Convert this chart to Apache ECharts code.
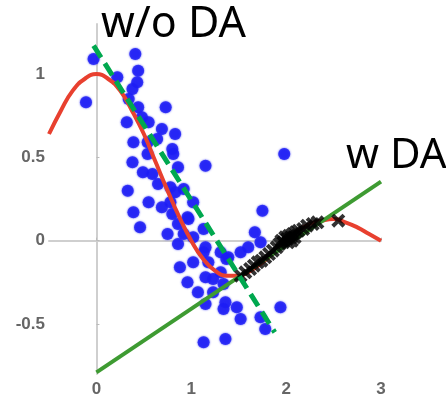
<!DOCTYPE html>
<html>
<head>
<meta charset="utf-8">
<script src="https://cdn.jsdelivr.net/npm/echarts@6/dist/echarts.min.js"></script>
<style>
  html, body { margin: 0; padding: 0; background: #fff; }
  #main { width: 446px; height: 398px; }
</style>
</head>
<body>
<div id="main"></div>
<script>
// source samples (blue dots)
var sourcePoints = [
  [-0.03, 1.09], [0.41, 1.12], [0.44, 1.02], [0.22, 0.98], [0.43, 0.95],
  [0.38, 0.91], [-0.11, 0.83], [0.34, 0.85], [0.44, 0.80], [0.73, 0.80],
  [0.32, 0.71], [0.48, 0.74], [0.55, 0.71], [0.69, 0.67], [0.83, 0.64],
  [0.39, 0.59], [0.64, 0.61], [0.80, 0.55], [0.81, 0.52], [0.54, 0.52],
  [0.38, 0.47], [0.86, 0.44], [1.15, 0.45], [0.49, 0.41], [0.59, 0.40],
  [0.65, 0.34], [0.33, 0.30], [0.78, 0.32], [0.92, 0.31], [0.83, 0.29],
  [0.55, 0.23], [0.78, 0.23], [0.69, 0.20], [1.02, 0.23], [0.80, 0.16],
  [0.39, 0.17], [0.46, 0.08], [0.97, 0.13], [0.86, 0.10], [0.75, 0.04],
  [0.92, 0.04], [1.13, 0.07], [1.02, 0.02], [0.86, -0.02], [1.13, -0.07],
  [1.02, -0.13], [0.88, -0.16], [1.18, -0.13], [1.39, -0.10], [1.52, -0.07],
  [1.60, -0.04], [1.67, 0.05], [1.73, -0.01], [0.96, -0.25], [1.15, -0.22],
  [1.23, -0.23], [1.31, -0.19], [1.07, -0.31], [1.23, -0.31], [1.36, -0.37],
  [1.48, -0.40], [1.34, -0.41], [1.15, -0.38], [1.52, -0.47], [1.94, -0.40],
  [1.73, -0.46], [1.78, -0.53], [1.13, -0.61], [1.36, -0.59], [1.75, 0.18],
  [1.37, -0.11], [1.98, 0.52], [0.54, 0.59], [0.96, 0.14], [1.15, -0.04],
  [1.31, -0.07], [1.34, -0.26]
];

// target samples (black crosses)
var targetPoints = [
  [1.52, -0.21], [1.57, -0.19], [1.62, -0.17], [1.66, -0.15], [1.70, -0.13],
  [1.74, -0.12], [1.78, -0.10], [1.82, -0.08], [1.86, -0.06], [1.90, -0.04],
  [1.93, -0.02], [1.95, 0.00], [1.97, -0.01], [1.99, 0.02], [2.01, 0.01],
  [2.02, -0.01], [2.03, 0.03], [2.05, 0.02], [2.06, 0.00], [2.07, 0.04],
  [2.09, 0.02], [2.10, 0.05], [2.13, 0.06], [2.18, 0.07], [2.22, 0.09],
  [2.28, 0.10], [2.33, 0.11], [2.55, 0.12]
];

// true function (red curve)
var curveX = [-0.5, -0.375, -0.25, -0.125, 0, 0.125, 0.25, 0.375, 0.5, 0.625, 0.75, 0.875,
  1, 1.125, 1.25, 1.375, 1.5, 1.625, 1.75, 1.875, 2, 2.125, 2.25, 2.375, 2.5, 2.625, 2.75, 2.875, 3];
var curveY = [0.64, 0.78, 0.90, 0.97, 1.0, 0.97, 0.90, 0.78, 0.64, 0.47, 0.30, 0.14,
  0.0, -0.11, -0.18, -0.21, -0.21, -0.18, -0.13, -0.07, 0.0, 0.06, 0.10, 0.12, 0.13, 0.11, 0.08, 0.04, 0.0];

// fitted lines
var fitWithDA = [[0, -0.79], [3, 0.354]];
var fitWithoutDA = [[-0.03, 1.17], [1.88, -0.55]];

var xTicks = [0, 1, 2, 3];
var yTicks = [-0.5, 0, 0.5, 1];

var chart = echarts.init(document.getElementById('main'));

// filled "x" marker
var crossPath = 'path://M0,2 L2,0 L5,3 L8,0 L10,2 L7,5 L10,8 L8,10 L5,7 L2,10 L0,8 L3,5 Z';

var axisLabelStyle = {
  color: '#666',
  fontSize: 17,
  fontWeight: 'bold',
  fontFamily: 'Liberation Sans'
};

var option = {
  animation: false,
  grid: {
    left: 49,
    right: 65,
    top: 24,
    bottom: 24
  },
  xAxis: {
    type: 'value',
    min: -0.5,
    max: 3,
    axisLine: { show: true, lineStyle: { color: '#cfcfcf', width: 2 } },
    axisTick: { show: true, inside: true, length: 3, customValues: xTicks, lineStyle: { color: '#bbb' } },
    axisLabel: Object.assign({ customValues: xTicks, margin: 7 }, axisLabelStyle),
    splitLine: { show: false }
  },
  yAxis: {
    type: 'value',
    min: -0.8,
    max: 1.3,
    axisLine: { show: true, lineStyle: { color: '#cfcfcf', width: 2 } },
    axisTick: { show: true, inside: true, length: 3, customValues: yTicks, lineStyle: { color: '#bbb' } },
    axisLabel: Object.assign({ customValues: yTicks, margin: 4 }, axisLabelStyle),
    splitLine: { show: false }
  },
  series: [
    {
      name: 'source',
      type: 'scatter',
      data: sourcePoints,
      symbol: 'circle',
      symbolSize: 12,
      itemStyle: { color: '#1e1ef5', shadowBlur: 2, shadowColor: '#1e1ef5' },
      z: 1
    },
    {
      name: 'true',
      type: 'line',
      data: curveX.map(function (x, i) { return [x, curveY[i]]; }),
      smooth: true,
      showSymbol: false,
      lineStyle: { color: '#e8402f', width: 4 },
      z: 2
    },
    {
      name: 'w DA',
      type: 'line',
      data: fitWithDA,
      showSymbol: false,
      lineStyle: { color: '#3e9b32', width: 4 },
      z: 3
    },
    {
      name: 'target',
      type: 'scatter',
      data: targetPoints,
      symbol: crossPath,
      symbolSize: 14,
      itemStyle: { color: '#000' },
      z: 4
    },
    {
      name: 'w/o DA',
      type: 'line',
      data: fitWithoutDA,
      showSymbol: false,
      lineStyle: { color: '#00a84f', width: 5, type: [14, 7] },
      z: 5
    }
  ],
  graphic: [
    {
      type: 'text',
      left: 101,
      top: 3,
      style: { text: 'w/o DA', fill: '#000', fontSize: 43, fontFamily: 'Noto Sans' }
    },
    {
      type: 'text',
      left: 346,
      top: 135,
      style: { text: 'w DA', fill: '#000', fontSize: 42, fontFamily: 'Noto Sans' }
    }
  ]
};

chart.setOption(option);
</script>
</body>
</html>
